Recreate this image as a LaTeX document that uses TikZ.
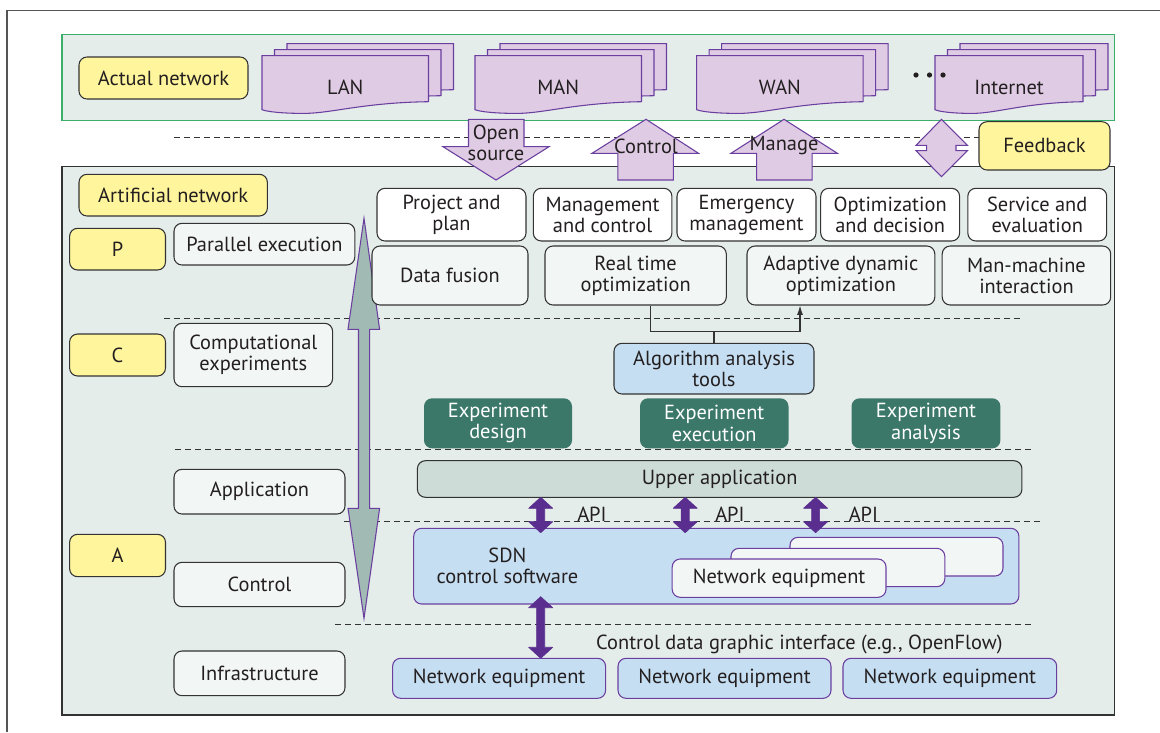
\documentclass[tikz,border=0pt]{standalone}
\usepackage{fontspec}
\setmainfont{PT Sans}
\usetikzlibrary{arrows.meta}

\definecolor{cPanel}{HTML}{E5EDEA}
\definecolor{cGreen}{HTML}{3BAF6A}
\definecolor{cFrame}{HTML}{555555}
\definecolor{cDark}{HTML}{333333}
\definecolor{cText}{HTML}{231F20}
\definecolor{cYellow}{HTML}{FFF59C}
\definecolor{cLilac}{HTML}{DFCBE3}
\definecolor{cViolet}{HTML}{6B3FA0}
\definecolor{cDeep}{HTML}{5A2E8F}
\definecolor{cTeal}{HTML}{3B7869}
\definecolor{cBlue}{HTML}{C6DEF2}
\definecolor{cUpper}{HTML}{CDDCD6}
\definecolor{cLite}{HTML}{F2F6F5}
\definecolor{cGrayArrow}{HTML}{A1BBB4}

% box from corner (x1,y1) to corner (x2,y2), in pixel-like units
\newcommand\mybox[7]{%
  \pgfmathsetmacro\bxw{(#5-#3)*0.75}%
  \pgfmathsetmacro\bxh{(#6-#4)*0.75}%
  \node[#2, minimum width=\bxw pt, minimum height=\bxh pt] (#1)
    at ({(#3+#5)/2},{(#4+#6)/2}) {#7};}

% document outline with a wavy bottom edge
\newcommand\docpath[3]{%
  ({#1},{#2}) -- ({#1+#3},{#2}) -- ({#1+#3},{#2+46})
  .. controls ({#1+0.6*#3},{#2+47}) and ({#1+0.42*#3},{#2+57.7}) .. ({#1+0.25*#3},{#2+57.7})
  .. controls ({#1+0.12*#3},{#2+57.7}) and ({#1+0.03*#3},{#2+56}) .. ({#1},{#2+54}) -- cycle}

% stack of three documents with a label on the front one
\newcommand\docstack[4]{%
  \foreach \k in {2,1,0}{\draw[docst] \docpath{#1+12.5*\k}{55.7-6*\k}{#2};}
  \node[txt] (#4) at ({#1+#2/2},87) {#3};}

% thick purple double-headed arrow between two heights
\newcommand\apiarrow[3]{%
  \fill[cDeep, draw=cDeep, line width=0.5pt, line join=round]
    ({#1},{#2}) -- ({#1+12},{#2+11}) -- ({#1+4},{#2+11}) -- ({#1+4},{#3-11})
    -- ({#1+12},{#3-11}) -- ({#1},{#3}) -- ({#1-12},{#3-11}) -- ({#1-4},{#3-11})
    -- ({#1-4},{#2+11}) -- ({#1-12},{#2+11}) -- cycle;}

\tikzset{
  txt/.style={text=cText, inner sep=0pt, align=center},
  base/.style={txt, rounded corners=6pt, line width=0.8pt},
  yel/.style={base, draw=cDark, fill=cYellow},
  wbox/.style={base, draw=cDark, fill=white},
  lite/.style={base, draw=cDark, fill=cLite},
  algo/.style={base, draw=cDark, fill=cBlue},
  tealbox/.style={base, fill=cTeal, text=white},
  upper/.style={base, draw=cDark, fill=cUpper},
  sdn/.style={base, draw=cViolet, fill=cBlue},
  equip/.style={base, draw=cViolet, fill=cLite},
  docst/.style={draw=cViolet, fill=cLilac, line width=0.8pt},
  bigarrow/.style={draw=cViolet, fill=cLilac, line width=0.8pt, line join=miter},
  sep/.style={draw=cDark, line width=0.75pt, dash pattern=on 4.5pt off 3pt},
}

\begin{document}
\begin{tikzpicture}[x=0.75pt, y=-0.75pt, font=\fontsize{15.3}{15.9}\selectfont]
\useasboundingbox (0,0) rectangle (1160,732);

% outer frame
\draw[cFrame, line width=0.8pt] (7,732) -- (7,10.5) -- (1160,10.5);

% ---- actual network ----
\mybox{real}{draw=cGreen, fill=cPanel, line width=0.8pt, inner sep=0pt}{62}{34.5}{1114.5}{120.5}{}
\mybox{actual}{yel}{79}{57}{248}{99}{Actual network}
\docstack{262}{166.5}{LAN}{lan}
\docstack{475}{166.5}{MAN}{man}
\docstack{696.7}{166.5}{WAN}{wan}
\docstack{935}{148}{Internet}{inet}
\foreach \dx in {916,929.5,943} \fill[cText] (\dx,75) circle (2.6);

% ---- artificial network panel ----
\mybox{artpanel}{draw=cDark, fill=cPanel, line width=0.8pt, inner sep=0pt}{62}{166.7}{1114.5}{715}{}

% layer separators
\draw[sep] (174,137.7) -- (979,137.7);
\draw[sep] (164,318.3) -- (1022.6,318.3);
\draw[sep] (175,449.3) -- (1034.8,449.3);
\draw[sep] (344,521) -- (1043,521);
\draw[sep] (335,624.3) -- (1033.7,624.3);

% arrows between the actual and the artificial network
\draw[bigarrow] (468.5,119.3) -- (524,119.3) -- (524,146.7) -- (549,146.7) -- (496,180)
  -- (443,146.7) -- (468.5,146.7) -- cycle;
\node[txt] (opensrc) at (496,143) {Open\\source};
\draw[bigarrow] (646,119.3) -- (698.5,153.3) -- (673.3,153.3) -- (673.3,180) -- (617.8,180)
  -- (617.8,153.3) -- (592,153.3) -- cycle;
\node[txt] (ctrl) at (646,146) {Control};
\draw[bigarrow] (784,119.3) -- (837.4,153.3) -- (812.2,153.3) -- (812.2,180) -- (756.7,180)
  -- (756.7,153.3) -- (731,153.3) -- cycle;
\node[txt] (manage) at (784,146) {Manage};
\draw[bigarrow] (941.5,119.3) -- (967.4,145.3) -- (956,145.3) -- (956,150.7) -- (967.4,150.7)
  -- (941.5,176.7) -- (916,150.7) -- (926.7,150.7) -- (926.7,145.3) -- (916,145.3) -- cycle;
\mybox{feedback}{yel}{979}{121.7}{1110}{170}{Feedback}

% ---- left column ----
\mybox{artificial}{yel}{79}{174.3}{267.4}{216}{Artificial network}
\mybox{P}{yel}{69.6}{228.3}{165.5}{270}{P}
\mybox{C}{yel}{69.6}{334}{165.5}{376}{C}
\mybox{A}{yel}{69.6}{534.3}{165.5}{576.7}{A}
\mybox{parallel}{lite}{174}{223.3}{354.8}{265}{Parallel execution}
\mybox{compexp}{lite}{174}{323.3}{332.6}{386.7}{Computational\\experiments}
\mybox{application}{lite}{174}{469.3}{345}{514}{Application}
\mybox{control}{lite}{174}{562.3}{345}{606.7}{Control}
\mybox{infra}{lite}{174}{651}{345}{695.7}{Infrastructure}

% vertical double arrow across the layers
\draw[bigarrow, fill=cGrayArrow] (364,218.3) -- (379.6,329.3) -- (369.6,329.3) -- (369.6,508.3)
  -- (379.6,508.3) -- (364,618.3) -- (348,508.3) -- (358.5,508.3) -- (358.5,329.3)
  -- (348,329.3) -- cycle;

% ---- parallel execution ----
\mybox{plan}{wbox}{377}{188.3}{526}{241}{Project and\\plan}
\mybox{mgmt}{wbox}{533.3}{188.3}{671.9}{241}{Management\\and control}
\mybox{emerg}{wbox}{677}{188.3}{816}{241}{Emergency\\management}
\mybox{optdec}{wbox}{820.7}{188.3}{959.6}{241}{Optimization\\and decision}
\mybox{service}{wbox}{967.8}{188.3}{1106.7}{241}{Service and\\evaluation}
\mybox{fusion}{lite}{372}{246}{528}{305}{Data fusion}
\mybox{rto}{lite}{545}{246}{726.3}{305}{Real time\\optimization}
\mybox{ado}{lite}{747}{246}{934.8}{305}{Adaptive dynamic\\optimization}
\mybox{mmi}{lite}{942.2}{246}{1110.7}{305}{Man-machine\\interaction}

% ---- computational experiments ----
\mybox{algo}{algo}{614}{343.3}{814}{394}{Algorithm analysis\\tools}
\coordinate (join) at (714,331.7);
\coordinate (rtx) at (650.4,331.7);
\coordinate (adx) at (800,331.7);
\draw[cDark, line width=0.8pt] (algo.north) -- (join);
\draw[cDark, line width=0.8pt, -{Latex[length=7pt,width=4.5pt]}]
  (rtx |- rto.south) -- (rtx) -- (adx) -- (adx |- ado.south);
\mybox{expdesign}{tealbox}{424}{398.3}{572}{448.3}{Experiment\\design}
\mybox{expexec}{tealbox}{640}{398.3}{788.5}{448.3}{Experiment\\execution}
\mybox{expana}{tealbox}{851.5}{398.3}{1000.4}{448.3}{Experiment\\analysis}

% ---- application / control / infrastructure ----
\mybox{upperapp}{upper}{417.4}{460.7}{1021.9}{497.3}{Upper application}
\mybox{sdnbox}{sdn}{413.7}{528.3}{1018.9}{604}{}
\node[txt] (sdntext) at (507.4,566) {SDN\\control software};
\mybox{ne3}{equip}{790}{537.3}{1003}{576}{}
\mybox{ne2}{equip}{731}{548.3}{944.8}{586.7}{}
\mybox{ne1}{equip}{672.2}{559}{886}{597.3}{Network equipment}

\apiarrow{540.7}{497.3}{532.7}
\apiarrow{685.2}{497.3}{532.7}
\apiarrow{815.6}{497.3}{532.7}
\node[txt, anchor=base west] (api1) at (577,521) {API};
\node[txt, anchor=base west] (api2) at (715,521) {API};
\node[txt, anchor=base west] (api3) at (848.5,521) {API};

\apiarrow{540.7}{596.7}{658.3}
\node[txt, anchor=base] (cdgi) at (799.4,649.3) {Control data graphic interface (e.g., OpenFlow)};

\mybox{neA}{sdn}{392.6}{658.3}{605.6}{698.3}{Network equipment}
\mybox{neB}{sdn}{618}{658.3}{831}{698.3}{Network equipment}
\mybox{neC}{sdn}{843}{658.3}{1056.7}{698.3}{Network equipment}
\end{tikzpicture}
\end{document}
